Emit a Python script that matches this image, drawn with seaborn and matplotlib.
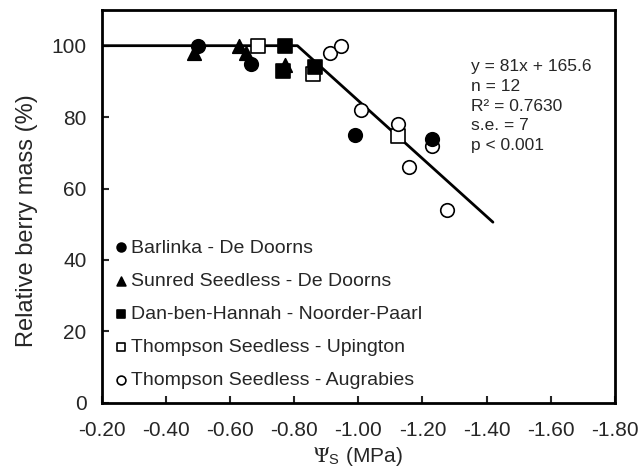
import numpy as np
import pandas as pd
import seaborn as sns
import matplotlib.pyplot as plt

# Data (Psi_s in MPa, relative berry mass in %)
barlinka_x = [-0.50, -0.665, -0.99, -1.23]
barlinka_y = [100, 95, 75, 74]

sunred_x = [-0.488, -0.628, -0.649, -0.771]
sunred_y = [98, 100, 98, 94.5]

danben_x = [-0.771, -0.766, -0.864]
danben_y = [100, 92.8, 94]

thompson_up_x = [-0.688, -0.859, -1.125]
thompson_up_y = [100, 92, 74.6]

thompson_aug_x = [-0.911, -0.945, -1.007, -1.125, -1.23, -1.159, -1.277]
thompson_aug_y = [98, 100, 82, 78, 72, 66, 54]

# fitted broken-stick model
slope = 81
intercept = 165.6
plateau = 100
fit_x_start = -0.20
fit_x_end = -1.42

stats_text = "y = 81x + 165.6\nn = 12\nR² = 0.7630\ns.e. = 7\np < 0.001"

x_ticks = [-0.20, -0.40, -0.60, -0.80, -1.00, -1.20, -1.40, -1.60, -1.80]
y_ticks = [0, 20, 40, 60, 80, 100]

sns.set_style("ticks")
plt.rcParams['font.family'] = ['Liberation Sans', 'DejaVu Sans']
plt.rcParams['mathtext.fontset'] = 'stix'

fig = plt.figure(figsize=(6.41, 4.75), dpi=100)
ax = fig.add_axes([0.159, 0.152, 0.8, 0.827])

# fit line
x_break = (plateau - intercept) / slope
fit = pd.DataFrame({"x": [fit_x_start, x_break, fit_x_end]})
fit["y"] = np.minimum(plateau, slope * fit["x"] + intercept)
sns.lineplot(data=fit, x="x", y="y", color="black", linewidth=2, ax=ax, zorder=2)

series = [
    ("Barlinka - De Doorns", barlinka_x, barlinka_y, "o", "black", 5),
    ("Sunred Seedless - De Doorns", sunred_x, sunred_y, "^", "black", 5),
    ("Dan-ben-Hannah - Noorder-Paarl", danben_x, danben_y, "s", "black", 5),
    ("Thompson Seedless - Upington", thompson_up_x, thompson_up_y, "s", "white", 3),
    ("Thompson Seedless - Augrabies", thompson_aug_x, thompson_aug_y, "o", "white", 3),
]

for label, xs, ys, mk, fc, z in series:
    sns.scatterplot(x=xs, y=ys, marker=mk, color=fc, edgecolor="black",
                    linewidth=1.2, s=95, ax=ax, label=label, zorder=z)

ax.set_xlim(-0.2, -1.8)
ax.set_ylim(0, 110)
ax.set_xticks(x_ticks)
ax.set_xticklabels([f"{v:.2f}" for v in x_ticks])
ax.set_yticks(y_ticks)
ax.tick_params(direction="in", length=5, width=1.5, labelsize=15)
ax.tick_params(axis="x", pad=13)
ax.tick_params(axis="y", pad=11)
for sp in ax.spines.values():
    sp.set_linewidth(2)
    sp.set_color("black")

ax.set_xlabel(r"$\Psi_\mathregular{S}$ (MPa)", fontsize=15, labelpad=4)
ax.set_ylabel("Relative berry mass (%)", fontsize=17)
ax.yaxis.set_label_coords(-0.125, 0.465)

ax.text(0.72, 0.875, stats_text, transform=ax.transAxes, fontsize=12.5,
        va="top", ha="left", linespacing=1.4)

ax.legend(loc="lower left", frameon=False, fontsize=14, markerscale=0.65,
          handlelength=0.6, handletextpad=0.2, labelspacing=0.8,
          borderaxespad=0.3, borderpad=0.4)

fig.savefig("out.png", dpi=100)
